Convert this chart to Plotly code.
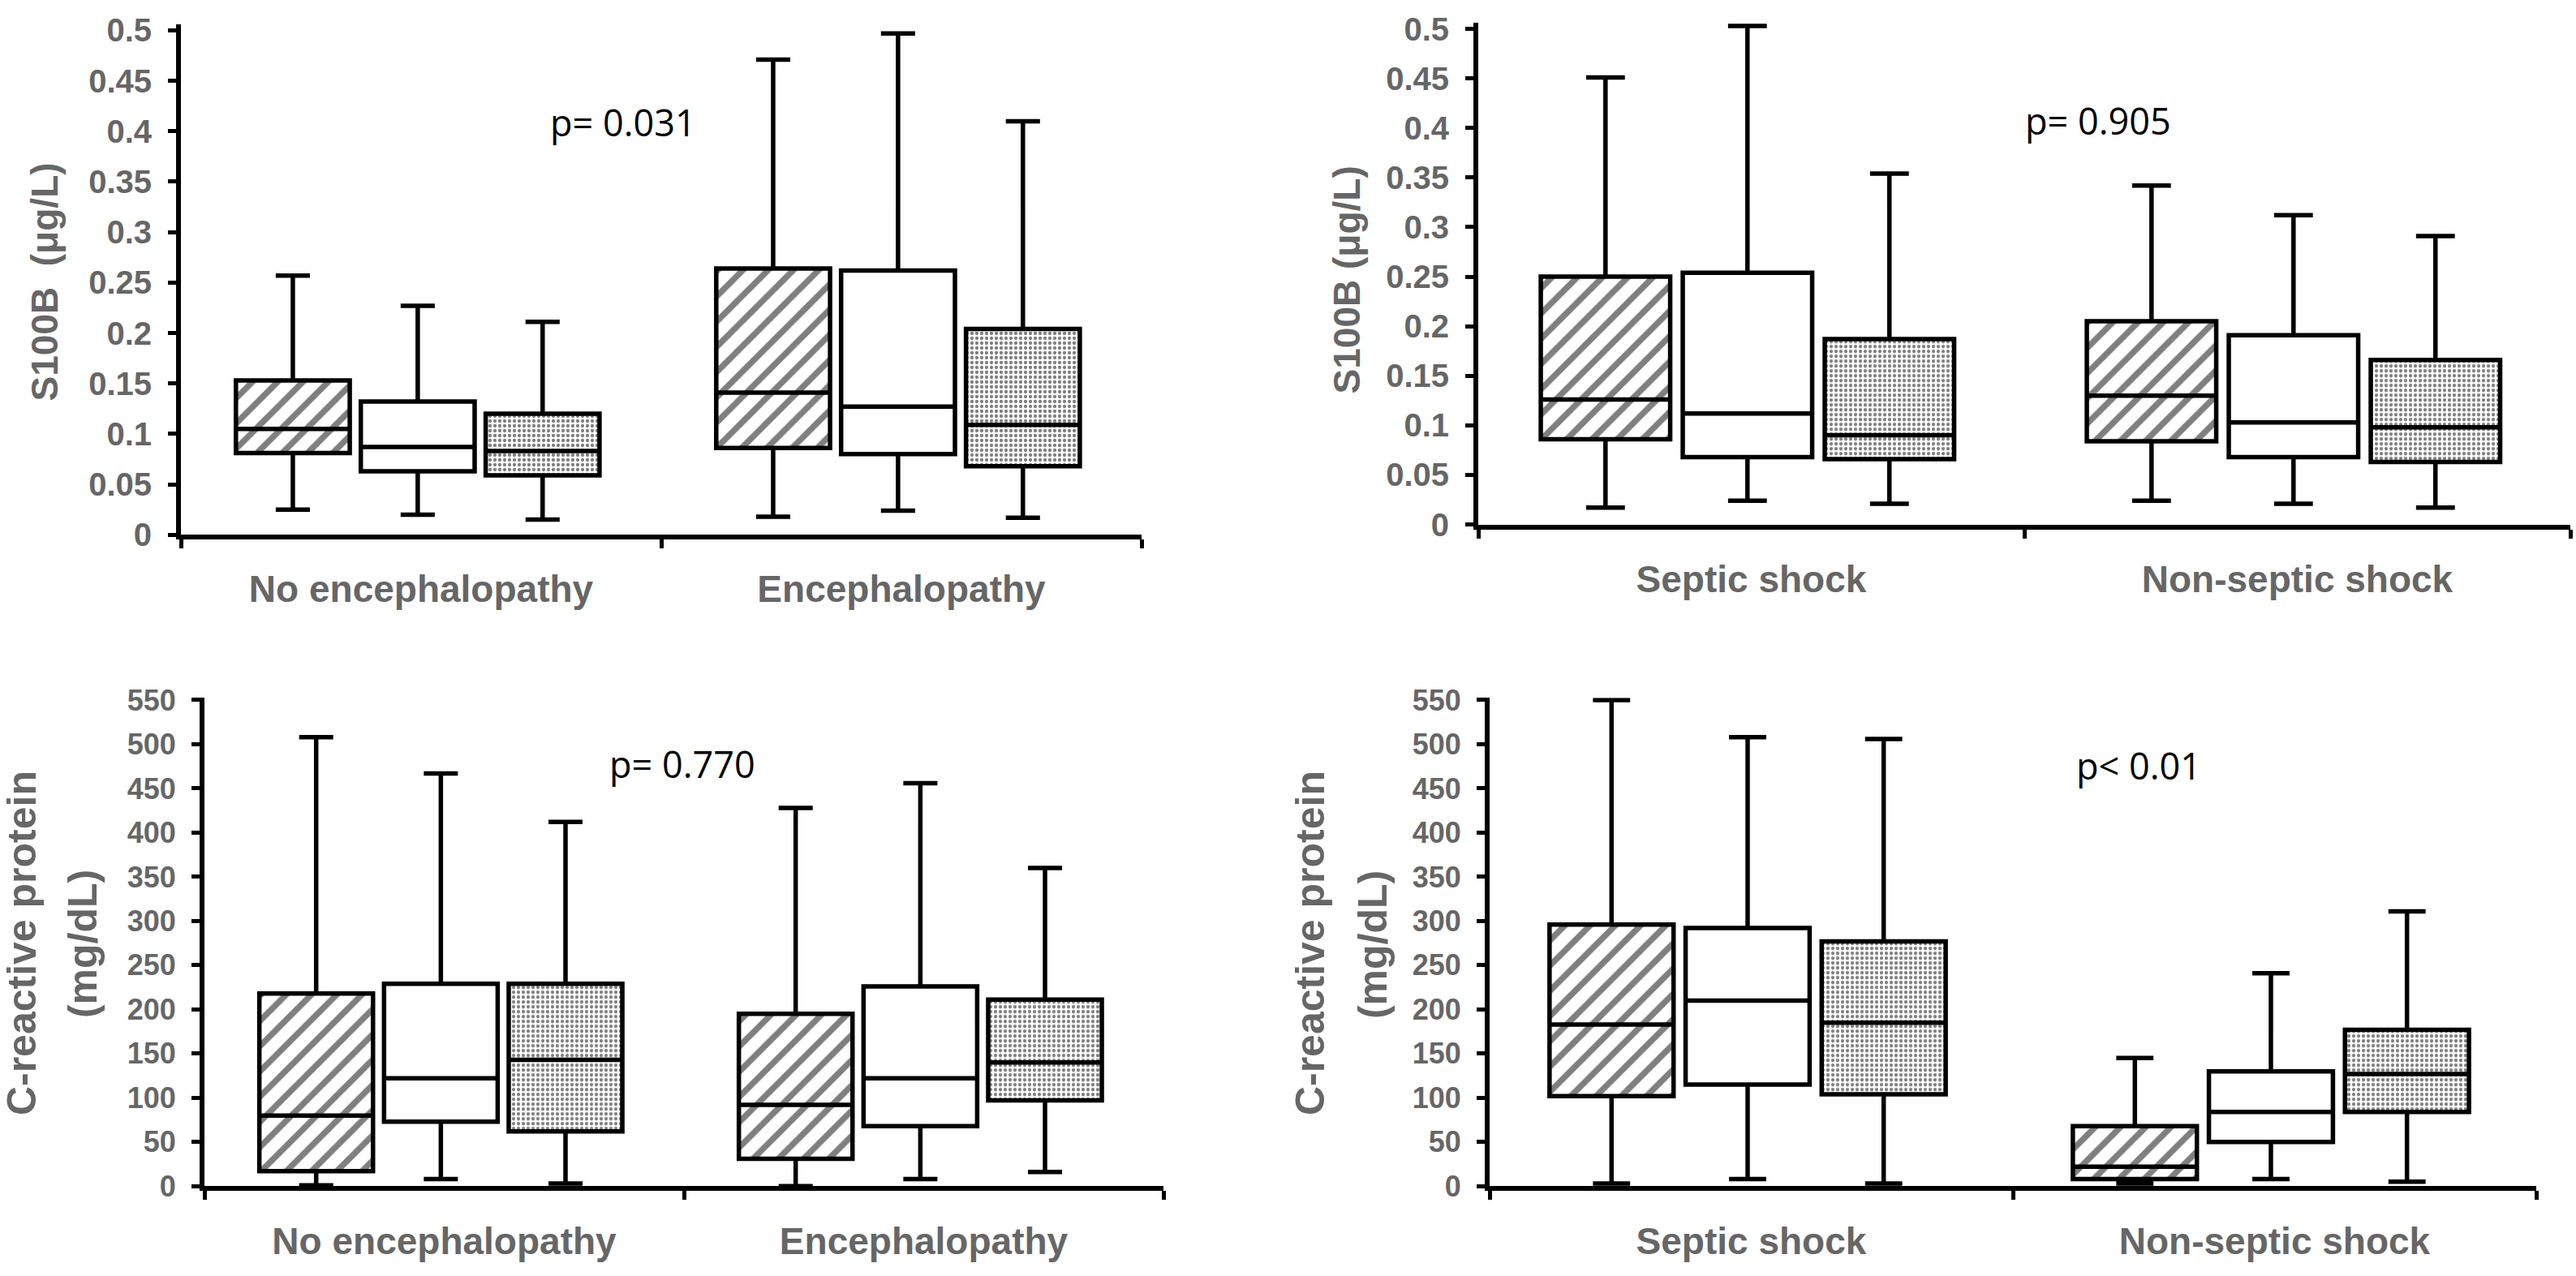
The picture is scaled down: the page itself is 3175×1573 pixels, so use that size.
import plotly.graph_objects as go

W, H = 3175, 1573

# ---------------- data ----------------
cats_enc = ["No encephalopathy", "Encephalopathy"]
cats_shock = ["Septic shock", "Non-septic shock"]

s100_ticks = [0, 0.05, 0.1, 0.15, 0.2, 0.25, 0.3, 0.35, 0.4, 0.45, 0.5]
s100_ticktext = ["0", "0.05", "0.1", "0.15", "0.2", "0.25", "0.3", "0.35", "0.4", "0.45", "0.5"]
crp_ticks = [0, 50, 100, 150, 200, 250, 300, 350, 400, 450, 500, 550]
crp_ticktext = [str(v) for v in crp_ticks]

# Panel A: S100B by encephalopathy  (series: hatched, white, dotted)
a_low = [[0.025, 0.018], [0.020, 0.024], [0.015, 0.017]]
a_q1 = [[0.081, 0.086], [0.063, 0.080], [0.059, 0.068]]
a_med = [[0.105, 0.141], [0.087, 0.127], [0.083, 0.109]]
a_q3 = [[0.153, 0.264], [0.132, 0.262], [0.120, 0.204]]
a_up = [[0.257, 0.471], [0.227, 0.497], [0.211, 0.410]]

# Panel B: S100B by shock
b_low = [[0.017, 0.024], [0.024, 0.021], [0.021, 0.017]]
b_q1 = [[0.086, 0.084], [0.068, 0.068], [0.066, 0.063]]
b_med = [[0.126, 0.130], [0.112, 0.103], [0.090, 0.098]]
b_q3 = [[0.250, 0.205], [0.254, 0.191], [0.187, 0.166]]
b_up = [[0.451, 0.342], [0.503, 0.312], [0.354, 0.291]]

# Panel C: CRP by encephalopathy
c_low = [[1, 0], [8, 8], [3, 16]]
c_q1 = [[17, 31], [73, 68], [62, 97]]
c_med = [[80, 92], [122, 122], [143, 140]]
c_q3 = [[218, 195], [229, 226], [229, 211]]
c_up = [[508, 428], [467, 456], [412, 360]]

# Panel D: CRP by shock
d_low = [[3, 3], [8, 8], [3, 5]]
d_q1 = [[102, 8], [115, 50], [104, 84]]
d_med = [[183, 22], [210, 84], [185, 127]]
d_q3 = [[296, 68], [292, 130], [277, 177]]
d_up = [[550, 145], [508, 241], [506, 311]]

p_texts = ["p= 0.031", "p= 0.905", "p= 0.770", "p< 0.01"]
y_titles = ["S100B  (μg/L)", "S100B (μg/L)", "C-reactive protein", "C-reactive protein"]
y_subtitles = ["", "", "(mg/dL)", "(mg/dL)"]

# ---------------- styling / layout ----------------
GRAY = "#666666"
FONT = "Liberation Sans, Arial, sans-serif"
OFFSETS = [0.233, 0.493, 0.753]
BOX_W = 0.237
patterns = [
    dict(shape="/", size=22, solidity=0.34, fgcolor="black", bgcolor="white"),
    dict(shape="", fgcolor="black", bgcolor="white"),
    dict(shape=".", size=6, solidity=0.4, fgcolor="black", bgcolor="white"),
]

panels = [
    dict(cats=cats_enc, data=(a_low, a_q1, a_med, a_q3, a_up), xpx=(223, 1407),
         ytop=12.3, ybot=658, yr=0.506, ticks=(s100_ticks, s100_ticktext), tfs=40),
    dict(cats=cats_shock, data=(b_low, b_q1, b_med, b_q3, b_up), xpx=(1822, 3168),
         ytop=10.5, ybot=645, yr=0.506, ticks=(s100_ticks, s100_ticktext), tfs=40),
    dict(cats=cats_enc, data=(c_low, c_q1, c_med, c_q3, c_up), xpx=(252, 1434),
         ytop=864.2, ybot=1482, yr=552.5, ticks=(crp_ticks, crp_ticktext), tfs=36),
    dict(cats=cats_shock, data=(d_low, d_q1, d_med, d_q3, d_up), xpx=(1836, 3126),
         ytop=864.2, ybot=1482, yr=552.5, ticks=(crp_ticks, crp_ticktext), tfs=36),
]

fig = go.Figure()
layout_axes = {}

for i, p in enumerate(panels):
    sfx = "" if i == 0 else str(i + 1)
    xa, ya = "x" + sfx, "y" + sfx
    low, q1, med, q3, up = p["data"]
    for s in range(3):
        xs = [c + OFFSETS[s] for c in range(len(p["cats"]))]
        fig.add_trace(go.Bar(
            x=xs, y=[b - a for a, b in zip(q1[s], q3[s])], base=q1[s], width=BOX_W,
            marker=dict(color="white", line=dict(width=0), pattern=patterns[s]),
            xaxis=xa, yaxis=ya, hoverinfo="skip", showlegend=False))
        fig.add_trace(go.Box(
            x=xs, q1=q1[s], median=med[s], q3=q3[s], lowerfence=low[s], upperfence=up[s],
            width=BOX_W, whiskerwidth=0.3, boxpoints=False,
            line=dict(color="black", width=5.5), fillcolor="rgba(0,0,0,0)",
            xaxis=xa, yaxis=ya, hoverinfo="skip", showlegend=False))

    x0, x1 = p["xpx"]
    layout_axes["xaxis" + sfx] = dict(
        domain=[x0 / W, x1 / W], range=[0, 2], anchor=ya,
        showline=True, linewidth=6, linecolor="black", showgrid=False, zeroline=False,
        tickmode="array", tickvals=[0.5, 1.5], ticktext=p["cats"], ticks="",
        tickfont=dict(family=FONT, size=46, color=GRAY, weight="bold"),
        ticklabelstandoff=22,
        minor=dict(tickmode="array", tickvals=[0, 1, 2], ticks="outside", ticklen=11,
                   tickwidth=5, tickcolor="black", showgrid=False),
        fixedrange=True)
    tv, tt = p["ticks"]
    layout_axes["yaxis" + sfx] = dict(
        domain=[1 - p["ybot"] / H, 1 - p["ytop"] / H], range=[0, p["yr"]], anchor=xa,
        showline=True, linewidth=6, linecolor="black", showgrid=False, zeroline=False,
        tickmode="array", tickvals=tv, ticktext=tt, ticks="outside", ticklen=10,
        tickwidth=5, tickcolor="black",
        tickfont=dict(family=FONT, size=p["tfs"], color=GRAY, weight="bold"),
        ticklabelstandoff=12, fixedrange=True)

annotations = []
# p-values
p_pos = [(676, 136), (2494, 134), (749, 948), (2557, 950)]
for txt, (px, py) in zip(p_texts, p_pos):
    annotations.append(dict(text=txt, x=px / W, y=1 - py / H, xref="paper", yref="paper",
                            xanchor="left", yanchor="middle", showarrow=False,
                            font=dict(family="Open Sans, sans-serif", size=45, color="black")))
# y-axis titles
title_pos = [((55, 338), None), ((1660, 336), None),
             ((27, 1175), (102, 1176)), ((1615, 1175), (1692, 1176))]
for i, ((tx, ty), sub) in enumerate(title_pos):
    fs = 46 if i < 2 else 50
    annotations.append(dict(text=y_titles[i], x=tx / W, y=1 - ty / H, xref="paper", yref="paper",
                            xanchor="center", yanchor="middle", textangle=-90, showarrow=False,
                            font=dict(family=FONT, size=fs, color=GRAY, weight="bold")))
    if sub is not None:
        annotations.append(dict(text=y_subtitles[i], x=sub[0] / W, y=1 - sub[1] / H,
                                xref="paper", yref="paper", xanchor="center", yanchor="middle",
                                textangle=-90, showarrow=False,
                                font=dict(family=FONT, size=fs, color=GRAY, weight="bold")))

fig.update_layout(
    width=W, height=H, margin=dict(l=0, r=0, t=0, b=0),
    paper_bgcolor="white", plot_bgcolor="white",
    barmode="overlay", boxmode="overlay", showlegend=False,
    font=dict(family=FONT),
    annotations=annotations,
    **layout_axes)

fig.write_html("out.html", config=dict(displayModeBar=False))
